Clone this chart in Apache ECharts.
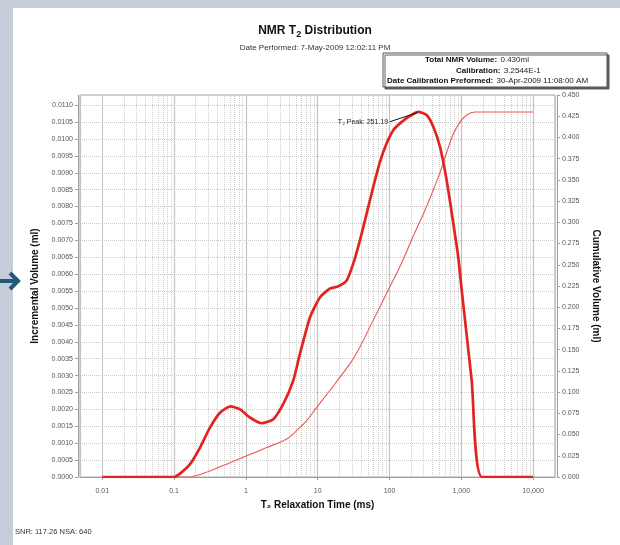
<!DOCTYPE html>
<html><head><meta charset="utf-8">
<script src="https://cdn.jsdelivr.net/npm/echarts@6/dist/echarts.min.js"></script>
<style>html,body{margin:0;padding:0;background:#fff;}#c{width:620px;height:545px;}</style>
</head><body><div id="c"></div>
<script>
// ---- data ----
const incT2  = [0.01, 0.1, 0.121, 0.167, 0.23, 0.316, 0.436, 0.614, 0.83, 1.14, 1.66, 2.41, 3.32, 4.57, 5.66, 7.81, 10.8, 14.8, 19.4, 25.3, 31.3, 38.8, 48.1, 59.5, 73.8, 91.4, 113, 140, 193, 251.19, 330, 408, 505, 626, 775, 908, 1013, 1397, 1950, 10000];
const incVol = [0, 0, 0.0001, 0.00038, 0.00087, 0.00146, 0.0019, 0.00209, 0.0020, 0.00176, 0.00159, 0.00171, 0.00216, 0.00285, 0.00364, 0.00472, 0.00532, 0.00557, 0.00564, 0.00581, 0.00631, 0.0070, 0.00779, 0.00858, 0.00932, 0.00987, 0.01026, 0.01046, 0.01068, 0.0108, 0.01071, 0.01036, 0.00977, 0.00878, 0.0075, 0.0065, 0.00554, 0.00285, 0, 0];
const cumT2  = [0.01, 0.16, 0.316, 0.6, 1.03, 1.95, 3.7, 5.66, 7.03, 9.7, 14.8, 28.2, 38.8, 59.5, 91.4, 140, 214, 330, 505, 626, 775, 960, 1189, 1550, 10000];
const cumVol = [0, 0, 0.0071, 0.0169, 0.0249, 0.0347, 0.0447, 0.0584, 0.0663, 0.0821, 0.1019, 0.1335, 0.1532, 0.1848, 0.2165, 0.248, 0.2835, 0.319, 0.3586, 0.3823, 0.404, 0.418, 0.4265, 0.430, 0.430];
const xTickValues = [0.01, 0.1, 1, 10, 100, 1000, 10000];
const xTickLabels = ['0.01', '0.1', '1', '10', '100', '1,000', '10,000'];
const peakT2 = 251.19;
const peakLabel = 'T\u2082 Peak: 251.19';
const peakArrowStart = [101.6, 0.01051];
const peakArrowEnd = [245, 0.01078];
const titleText = 'NMR T';
const titleSub = '2';
const titleRest = ' Distribution';
const subTitle = 'Date Performed: 7-May-2009 12:02:11 PM';
const infoLines = [
  ['Total NMR Volume:', '0.430ml'],
  ['Calibration:', '3.2544E-1'],
  ['Date Calibration Preformed:', '30-Apr-2009 11:08:00 AM']
];
const footText = 'SNR: 117.26 NSA: 640';

// minor log grid positions (2..9 within each decade)
const minorGrid = [];
[0.001, 0.01, 0.1, 1, 10, 100, 1000, 10000].forEach(d => {
  for (let k = 2; k <= 9; k++) {
    const v = +(d * k).toPrecision(3);
    if (v > 0.0049 && v < 20200) minorGrid.push(v);
  }
});

const FONT = 'Liberation Sans';
const zip = (a, b) => a.map((v, i) => [v, b[i]]);

const chart = echarts.init(document.getElementById('c'), null, {renderer: 'canvas'});
chart.setOption({
  animation: false,
  backgroundColor: '#ffffff',
  grid: {left: 80, right: 65, top: 95, bottom: 68, show: true, borderColor: '#a8a8a8', borderWidth: 1, backgroundColor: 'transparent'},
  xAxis: {
    type: 'log', logBase: 10, min: 0.0049, max: 20200,
    name: 'T\u2082 Relaxation Time (ms)', nameLocation: 'middle', nameGap: 21,
    nameTextStyle: {fontFamily: FONT, fontWeight: 'bold', fontSize: 10, color: '#111'},
    offset: 2,
    axisLine: {show: true, lineStyle: {color: '#a0a0a0'}},
    axisTick: {show: true, length: 3, lineStyle: {color: '#a0a0a0'}},
    axisLabel: {fontFamily: FONT, fontSize: 7, color: '#555', margin: 9, showMinLabel: false, showMaxLabel: false,
      formatter: v => {
        const i = xTickValues.findIndex(t => Math.abs(Math.log10(t) - Math.log10(v)) < 0.01);
        return i >= 0 ? xTickLabels[i] : '';
      }},
    splitLine: {show: true, lineStyle: {color: '#c2c2c2', width: 1.2}}
  },
  yAxis: [{
    type: 'value', position: 'left', min: 0, max: 0.0113, interval: 0.0005, offset: 2,
    name: 'Incremental Volume (ml)', nameLocation: 'middle', nameGap: 36,
    nameTextStyle: {fontFamily: FONT, fontWeight: 'bold', fontSize: 10, color: '#111'},
    axisLine: {show: true, lineStyle: {color: '#a0a0a0'}},
    axisTick: {show: true, length: 3, lineStyle: {color: '#a0a0a0'}},
    axisLabel: {fontFamily: FONT, fontSize: 7, color: '#555', margin: 5, showMaxLabel: false, formatter: v => v.toFixed(4)},
    splitLine: {show: true, lineStyle: {color: '#c8c8c8', type: 'dotted', width: 1}}
  }, {
    type: 'value', position: 'right', min: 0, max: 0.45, interval: 0.025, offset: 2,
    name: 'Cumulative Volume (ml)', nameLocation: 'middle', nameGap: 28, nameRotate: -90,
    nameTextStyle: {fontFamily: FONT, fontWeight: 'bold', fontSize: 10, color: '#111'},
    axisLine: {show: true, lineStyle: {color: '#a0a0a0'}},
    axisTick: {show: true, length: 3, lineStyle: {color: '#a0a0a0'}},
    axisLabel: {fontFamily: FONT, fontSize: 7, color: '#555', margin: 5, formatter: v => v.toFixed(3)},
    splitLine: {show: false}
  }],
  series: [{
    type: 'line', name: 'grid', data: [[1, 0]], showSymbol: false, silent: true, z: 1,
    lineStyle: {opacity: 0},
    markLine: {silent: true, symbol: 'none', label: {show: false}, z: 1, animation: false,
      lineStyle: {color: '#cfcfcf', type: 'dotted', width: 1},
      data: minorGrid.map(v => ({xAxis: v}))}
  }, {
    type: 'line', name: 'Cumulative', yAxisIndex: 1, data: zip(cumT2, cumVol), showSymbol: false, smooth: 0.3, z: 3,
    lineStyle: {color: '#e85a55', width: 1.1}
  }, {
    type: 'line', name: 'Incremental', yAxisIndex: 0, data: zip(incT2, incVol), showSymbol: false, smooth: 0.2, z: 4,
    lineStyle: {color: '#e2231f', width: 2.7},
    markLine: {silent: true, symbol: ['none', 'arrow'], symbolSize: [0, 6], z: 6,
      lineStyle: {color: '#111', width: 1, type: 'solid'},
      label: {show: true, position: 'start', formatter: peakLabel, fontFamily: FONT, fontSize: 7, color: '#222', distance: 2},
      data: [[{coord: peakArrowStart}, {coord: peakArrowEnd}]]}
  }],
  graphic: [
    {type: 'rect', shape: {x: 0, y: 0, width: 620, height: 8}, style: {fill: '#c5ced8'}, silent: true},
    {type: 'rect', shape: {x: 0, y: 0, width: 13, height: 545}, style: {fill: '#c5ced8'}, silent: true},
    {type: 'line', shape: {x1: 0, y1: 281, x2: 17, y2: 281}, style: {stroke: '#1f5a78', lineWidth: 4}, silent: true},
    {type: 'polyline', shape: {points: [[10, 273], [18, 281], [10, 289]]}, style: {stroke: '#1f5a78', lineWidth: 4, fill: null, lineJoin: 'miter'}, silent: true},
    {type: 'text', x: 315, y: 31, silent: true, style: {
      text: '{b|' + titleText + '}{s|' + titleSub + '}{b|' + titleRest + '}', align: 'center', verticalAlign: 'middle',
      rich: {b: {fontFamily: FONT, fontWeight: 'bold', fontSize: 12, fill: '#111'},
             s: {fontFamily: FONT, fontWeight: 'bold', fontSize: 9, fill: '#111', padding: [8, 0, 0, 0]}}}},
    {type: 'text', x: 315, y: 48, silent: true, style: {text: subTitle, align: 'center', verticalAlign: 'middle', fontFamily: FONT, fontSize: 8, fill: '#333'}},
    {type: 'rect', shape: {x: 383, y: 53, width: 224, height: 34}, silent: true,
      style: {fill: '#fff', stroke: '#555', lineWidth: 1, shadowColor: 'rgba(80,80,80,0.9)', shadowOffsetX: 2, shadowOffsetY: 2, shadowBlur: 0}},
    {type: 'text', x: 425, y: 60, silent: true, style: {text: '{b|' + infoLines[0][0] + '} {n|' + infoLines[0][1] + '}', verticalAlign: 'middle',
      rich: {b: {fontFamily: FONT, fontWeight: 'bold', fontSize: 8, fill: '#111'}, n: {fontFamily: FONT, fontSize: 8, fill: '#222'}}}},
    {type: 'text', x: 456, y: 71, silent: true, style: {text: '{b|' + infoLines[1][0] + '} {n|' + infoLines[1][1] + '}', verticalAlign: 'middle',
      rich: {b: {fontFamily: FONT, fontWeight: 'bold', fontSize: 8, fill: '#111'}, n: {fontFamily: FONT, fontSize: 8, fill: '#222'}}}},
    {type: 'text', x: 387, y: 81, silent: true, style: {text: '{b|' + infoLines[2][0] + '} {n|' + infoLines[2][1] + '}', verticalAlign: 'middle',
      rich: {b: {fontFamily: FONT, fontWeight: 'bold', fontSize: 8, fill: '#111'}, n: {fontFamily: FONT, fontSize: 8, fill: '#222'}}}},
    {type: 'text', x: 15, y: 532, silent: true, style: {text: footText, verticalAlign: 'middle', fontFamily: FONT, fontSize: 7.5, fill: '#333'}}
  ]
});
</script></body></html>
